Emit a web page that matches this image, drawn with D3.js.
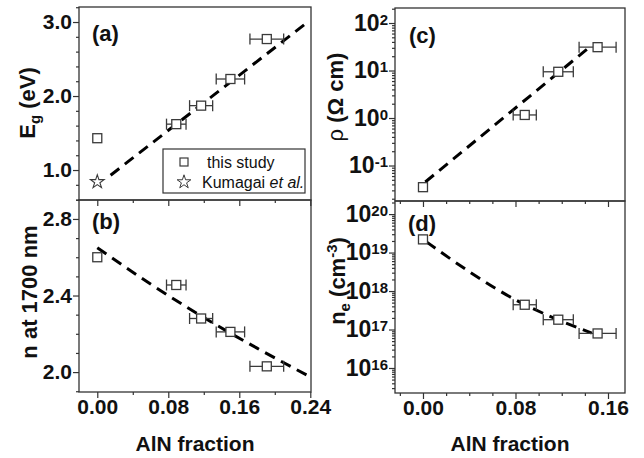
<!DOCTYPE html>
<html>
<head>
<meta charset="utf-8">
<script src="https://cdn.jsdelivr.net/npm/d3@7"></script>
<style>
body { margin: 0; background: #fff; }
text { font-family: "Liberation Sans", Arial, sans-serif; fill: #111; }
</style>
</head>
<body>
<div id="graf"></div>
<script>
// Datos
const xLeft     = [0, 0.089, 0.117, 0.150, 0.191]
const xErrLeft  = [0, 0.011, 0.013, 0.016, 0.019]
const eg        = [1.43, 1.62, 1.87, 2.23, 2.77]
const nIndex    = [2.60, 2.455, 2.28, 2.21, 2.03]
const kumagai   = [[0, 0.84]]
const xRight    = [0, 0.088, 0.117, 0.151]
const xErrRight = [0, 0.010, 0.013, 0.016]
const rho       = [0.035, 1.16, 9.4, 31]
const ne        = [2.2e19, 4.4e17, 1.8e17, 7.9e16]

// lineas de ajuste (discontinuas)
const fitEg  = [[0.015, 0.93], [0.235, 2.98]]
const fitN   = [[0, 2.65], [0.06, 2.46], [0.12, 2.285], [0.18, 2.125], [0.24, 1.975]]
const fitRho = [[0.002, 0.045], [0.146, 34]]
const fitNe  = [[0.003, 1.9e19], [0.04, 3.2e18], [0.08, 5.9e17], [0.107, 2.4e17], [0.146, 8.1e16]]

// ticks
const xMajorLeft  = [0, 0.08, 0.16, 0.24]
const xMinorLeft  = [0.04, 0.12, 0.20]
const xMajorRight = [0, 0.08, 0.16]
const xMinorRight = [-0.02, 0.02, 0.04, 0.06, 0.10, 0.12, 0.14]
const yMajorEg  = [1.0, 2.0, 3.0]
const yMinorEg  = [0.6, 0.8, 1.2, 1.4, 1.6, 1.8, 2.2, 2.4, 2.6, 2.8, 3.2]
const yMajorN   = [2.0, 2.4, 2.8]
const yMinorN   = [1.9, 2.1, 2.2, 2.3, 2.5, 2.6, 2.7, 2.9]
const yMajorRho = [0.1, 1, 10, 100]
const yMajorNe  = [1e16, 1e17, 1e18, 1e19, 1e20]

const frameColor = '#333'
const markColor = '#3a3a3a'

const svg = d3.select('#graf').append('svg')
  .attr('width', 644)
  .attr('height', 458)

// Escaladores
const xL = d3.scaleLinear().domain([-0.0206, 0.2408]).range([79, 311])
const xR = d3.scaleLinear().domain([-0.0242, 0.1747]).range([395, 625])
const yA = d3.scaleLinear().domain([0.595, 3.203]).range([200, 7])
const yB = d3.scaleLinear().domain([1.896, 2.899]).range([392, 200])
const yC = d3.scaleLog().domain([Math.pow(10, -1.747), Math.pow(10, 2.316)]).range([201, 8])
const yD = d3.scaleLog().domain([Math.pow(10, 15.35), Math.pow(10, 20.34)]).range([393, 201])

function logMinors(scale) {
  const [a, b] = scale.domain()
  const out = []
  for (let e = Math.floor(Math.log10(a)); e <= Math.ceil(Math.log10(b)); e++) {
    for (let k = 2; k <= 9; k++) {
      const v = k * Math.pow(10, e)
      if (v >= a && v <= b) out.push(v)
    }
  }
  return out
}

function styleAxis(sel, fs) {
  sel.select('.domain').remove()
  sel.selectAll('line').attr('stroke', frameColor).attr('stroke-width', 1.2)
  sel.selectAll('text')
    .attr('font-size', fs || 21)
    .attr('font-weight', 'bold')
    .attr('font-family', '"Liberation Sans", Arial, sans-serif')
    .attr('fill', '#111')
}

function drawPanel(p) {
  const g = svg.append('g')
  const [x0, x1] = p.x.range()
  const [y1, y0] = p.y.range()

  // eje x
  const xa = g.append('g').attr('transform', `translate(0,${y1})`)
    .call(d3.axisBottom(p.x).tickValues(p.xMajor).tickSize(6).tickSizeOuter(0).tickPadding(1)
      .tickFormat(p.xLabels ? d3.format('.2f') : ''))
  styleAxis(xa)
  const xm = g.append('g').attr('transform', `translate(0,${y1})`)
    .call(d3.axisBottom(p.x).tickValues(p.xMinor).tickSize(3).tickSizeOuter(0).tickFormat(''))
  styleAxis(xm)

  // eje y
  const ya = g.append('g').attr('transform', `translate(${x0},0)`)
    .call(d3.axisLeft(p.y).tickValues(p.yMajor).tickSize(6).tickSizeOuter(0).tickPadding(1)
      .tickFormat(p.log ? () => '' : d3.format('.1f')))
  styleAxis(ya, p.log ? 23 : 21)
  if (p.log) {
    ya.selectAll('.tick text').each(function(d) {
      const t = d3.select(this)
      t.append('tspan').text('10')
      t.append('tspan').attr('dy', '-0.42em').attr('font-size', 15)
        .text(Math.round(Math.log10(d)))
    })
  }
  const ym = g.append('g').attr('transform', `translate(${x0},0)`)
    .call(d3.axisLeft(p.y).tickValues(p.log ? logMinors(p.y) : p.yMinor)
      .tickSize(3).tickSizeOuter(0).tickFormat(''))
  styleAxis(ym)

  // marco
  g.append('rect')
    .attr('x', x0).attr('y', y0)
    .attr('width', x1 - x0).attr('height', y1 - y0)
    .attr('fill', 'none')
    .attr('stroke', frameColor)
    .attr('stroke-width', 1.3)

  // ajuste
  g.append('path')
    .datum(p.fit)
    .attr('d', d3.line().x(d => p.x(d[0])).y(d => p.y(d[1])).curve(d3.curveMonotoneX))
    .attr('fill', 'none')
    .attr('stroke', '#000')
    .attr('stroke-width', 3)
    .attr('stroke-dasharray', '11,7')

  const datos = p.xs.map((x, i) => ({ x: x, y: p.ys[i], e: p.errs[i] }))

  // barras de error
  const eb = g.selectAll('g.err').data(datos.filter(d => d.e > 0)).enter()
    .append('g').attr('class', 'err')
    .attr('stroke', markColor).attr('stroke-width', 1.3)
  eb.append('line')
    .attr('x1', d => p.x(d.x - d.e)).attr('x2', d => p.x(d.x + d.e))
    .attr('y1', d => p.y(d.y)).attr('y2', d => p.y(d.y))
  eb.append('line')
    .attr('x1', d => p.x(d.x - d.e)).attr('x2', d => p.x(d.x - d.e))
    .attr('y1', d => p.y(d.y) - 5.5).attr('y2', d => p.y(d.y) + 5.5)
  eb.append('line')
    .attr('x1', d => p.x(d.x + d.e)).attr('x2', d => p.x(d.x + d.e))
    .attr('y1', d => p.y(d.y) - 5.5).attr('y2', d => p.y(d.y) + 5.5)

  // cuadrados
  g.selectAll('rect.pt').data(datos).enter()
    .append('rect').attr('class', 'pt')
    .attr('x', d => p.x(d.x) - 4.5).attr('y', d => p.y(d.y) - 4.5)
    .attr('width', 9).attr('height', 9)
    .attr('fill', '#fff')
    .attr('stroke', markColor)
    .attr('stroke-width', 1.3)

  // etiqueta del panel
  g.append('text')
    .attr('x', p.label[1]).attr('y', p.label[2])
    .attr('font-size', 22).attr('font-weight', 'bold')
    .text(p.label[0])

  return g
}

const gA = drawPanel({ x: xL, y: yA, xMajor: xMajorLeft, xMinor: xMinorLeft, xLabels: false,
  yMajor: yMajorEg, yMinor: yMinorEg, fit: fitEg, xs: xLeft, ys: eg, errs: xErrLeft, label: ['(a)', 92, 41] })
drawPanel({ x: xL, y: yB, xMajor: xMajorLeft, xMinor: xMinorLeft, xLabels: true,
  yMajor: yMajorN, yMinor: yMinorN, fit: fitN, xs: xLeft, ys: nIndex, errs: xErrLeft, label: ['(b)', 92, 229] })
drawPanel({ x: xR, y: yC, xMajor: xMajorRight, xMinor: xMinorRight, xLabels: false, log: true,
  yMajor: yMajorRho, fit: fitRho, xs: xRight, ys: rho, errs: xErrRight, label: ['(c)', 409, 43] })
drawPanel({ x: xR, y: yD, xMajor: xMajorRight, xMinor: xMinorRight, xLabels: true, log: true,
  yMajor: yMajorNe, fit: fitNe, xs: xRight, ys: ne, errs: xErrRight, label: ['(d)', 408, 231] })

// estrella de Kumagai
const star = d3.symbol().type(d3.symbolStar).size(58)
gA.selectAll('path.star').data(kumagai).enter()
  .append('path').attr('class', 'star')
  .attr('d', star)
  .attr('transform', d => `translate(${xL(d[0])},${yA(d[1])})`)
  .attr('fill', '#fff').attr('stroke', markColor).attr('stroke-width', 1.1)

// leyenda
const leg = gA.append('g')
leg.append('rect')
  .attr('x', 163).attr('y', 149).attr('width', 142).attr('height', 44)
  .attr('fill', '#fff').attr('stroke', frameColor).attr('stroke-width', 1.2)
leg.append('rect')
  .attr('x', 180).attr('y', 158).attr('width', 8).attr('height', 8)
  .attr('fill', '#fff').attr('stroke', markColor).attr('stroke-width', 1.2)
leg.append('text').attr('x', 207).attr('y', 168).attr('font-size', 16).text('this study')
leg.append('path').attr('d', star).attr('transform', 'translate(184,182)')
  .attr('fill', '#fff').attr('stroke', markColor).attr('stroke-width', 1)
const kt = leg.append('text').attr('x', 202).attr('y', 188).attr('font-size', 16)
kt.append('tspan').text('Kumagai ')
kt.append('tspan').attr('font-style', 'italic').text('et al.')

// titulos de ejes
function yTitle(x, y, parts) {
  const t = svg.append('text')
    .attr('transform', `translate(${x},${y}) rotate(-90)`)
    .attr('text-anchor', 'middle')
    .attr('font-size', 22).attr('font-weight', 'bold')
  parts.forEach(pt => {
    const s = t.append('tspan').text(pt.t)
    if (pt.dy) s.attr('dy', pt.dy)
    if (pt.fs) s.attr('font-size', pt.fs)
    if (pt.fw) s.attr('font-weight', pt.fw)
  })
}
yTitle(35, 103, [{ t: 'E' }, { t: 'g', dy: 5, fs: 15 }, { t: ' (eV)', dy: -5 }])
yTitle(37, 292, [{ t: 'n at 1700 nm' }])
yTitle(343, 97, [{ t: 'ρ', fw: 'normal' }, { t: ' (Ω cm)' }])
yTitle(345, 281, [{ t: 'n' }, { t: 'e', dy: 5, fs: 15 }, { t: ' (cm', dy: -5 },
  { t: '-3', dy: -8, fs: 15 }, { t: ')', dy: 8 }])

svg.append('text').attr('x', 195).attr('y', 451)
  .attr('text-anchor', 'middle').attr('font-size', 21).attr('font-weight', 'bold')
  .text('AlN fraction')
svg.append('text').attr('x', 510).attr('y', 451)
  .attr('text-anchor', 'middle').attr('font-size', 21).attr('font-weight', 'bold')
  .text('AlN fraction')
</script>
</body>
</html>
